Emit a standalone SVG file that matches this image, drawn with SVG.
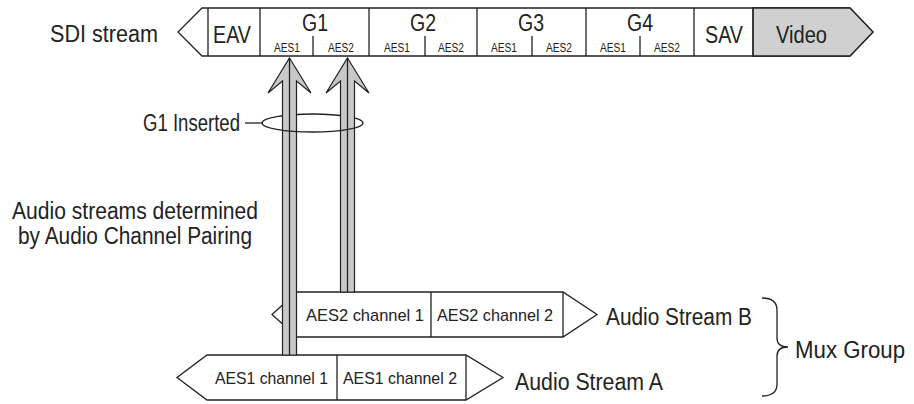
<svg xmlns="http://www.w3.org/2000/svg" width="914" height="404" viewBox="0 0 914 404">
<style>
text{font-family:"Liberation Sans",Arial,sans-serif;fill:#222}
.big{font-size:23px}
.sm{font-size:13.5px}
.ch{font-size:17px}
.ln{fill:none;stroke:#222;stroke-width:1.3}
.box{fill:#fff;stroke:#222;stroke-width:1.3}
.arr{fill:#c8c8c8;stroke:#222;stroke-width:1.2;stroke-linejoin:miter}
</style>
<rect width="914" height="404" fill="#fff"/>
<g id="labels">
<text class="big" x="50" y="42" textLength="108" lengthAdjust="spacingAndGlyphs">SDI stream</text>
<text class="big" x="143" y="131" textLength="97" lengthAdjust="spacingAndGlyphs">G1 Inserted</text>
<text class="big" x="12" y="219" textLength="246" lengthAdjust="spacingAndGlyphs">Audio streams determined</text>
<text class="big" x="18" y="244" textLength="234" lengthAdjust="spacingAndGlyphs">by Audio Channel Pairing</text>
</g>
<g id="sdi-stream">
<path class="box" d="M202,8 L850,8 L873,32 L850,56 L202,56 L178,32 Z"/>
<path d="M753,8 L850,8 L873,32 L850,56 L753,56 Z" fill="#d0d0d0" stroke="#222" stroke-width="1.3"/>
<path class="ln" d="M208,8V56M260,8V56M369,8V56M477,8V56M586,8V56M694,8V56M753,8V56M313,36V56M425,36V56M532,36V56M640,36V56"/>
<text class="big" x="213" y="43" textLength="38" lengthAdjust="spacingAndGlyphs">EAV</text>
<text class="big" x="302" y="31" textLength="26" lengthAdjust="spacingAndGlyphs">G1</text>
<text class="big" x="410" y="31" textLength="26" lengthAdjust="spacingAndGlyphs">G2</text>
<text class="big" x="518" y="31" textLength="26" lengthAdjust="spacingAndGlyphs">G3</text>
<text class="big" x="627" y="31" textLength="26" lengthAdjust="spacingAndGlyphs">G4</text>
<text class="big" x="705" y="43" textLength="38" lengthAdjust="spacingAndGlyphs">SAV</text>
<text class="big" x="776" y="43" textLength="51" lengthAdjust="spacingAndGlyphs">Video</text>
<text class="sm" x="274" y="52" textLength="26" lengthAdjust="spacingAndGlyphs">AES1</text>
<text class="sm" x="328" y="52" textLength="26" lengthAdjust="spacingAndGlyphs">AES2</text>
<text class="sm" x="384" y="52" textLength="26" lengthAdjust="spacingAndGlyphs">AES1</text>
<text class="sm" x="438" y="52" textLength="26" lengthAdjust="spacingAndGlyphs">AES2</text>
<text class="sm" x="491" y="52" textLength="26" lengthAdjust="spacingAndGlyphs">AES1</text>
<text class="sm" x="546" y="52" textLength="26" lengthAdjust="spacingAndGlyphs">AES2</text>
<text class="sm" x="600" y="52" textLength="26" lengthAdjust="spacingAndGlyphs">AES1</text>
<text class="sm" x="654" y="52" textLength="26" lengthAdjust="spacingAndGlyphs">AES2</text>
</g>
<g id="stream-b">
<path class="box" d="M297,292 L563,292 L597,314.5 L563,337 L297,337 L272,314.5 Z"/>
<path class="ln" d="M431,292V337M563,292V337"/>
<text class="ch" x="306" y="321" textLength="118" lengthAdjust="spacingAndGlyphs">AES2 channel 1</text>
<text class="ch" x="437" y="321" textLength="116" lengthAdjust="spacingAndGlyphs">AES2 channel 2</text>
<text class="big" x="606" y="325" textLength="146" lengthAdjust="spacingAndGlyphs">Audio Stream B</text>
</g>
<g id="stream-a">
<path class="box" d="M207,355 L466,355 L503,377.5 L466,400 L207,400 L177,377.5 Z"/>
<path class="ln" d="M337,355V400M466,355V400"/>
<text class="ch" x="215" y="384" textLength="113" lengthAdjust="spacingAndGlyphs">AES1 channel 1</text>
<text class="ch" x="343" y="384" textLength="114" lengthAdjust="spacingAndGlyphs">AES1 channel 2</text>
<text class="big" x="515" y="390" textLength="148" lengthAdjust="spacingAndGlyphs">Audio Stream A</text>
</g>
<g id="mux-group">
<path class="ln" d="M762,298 Q777,298 777,310 L777,338 Q777,347 788,347 Q777,347 777,356 L777,384 Q777,396 762,396"/>
<text class="big" x="795" y="358" textLength="110" lengthAdjust="spacingAndGlyphs">Mux Group</text>
</g>
<g id="connectors">
<path class="ln" d="M262,123 A50.5,9 0 0 1 363,123"/>
<path class="ln" d="M245,123H262"/>
<path class="arr" d="M289.5,58 L311,93 L296.5,81 L296.5,355 L282.5,355 L282.5,81 L268,93 Z"/>
<path class="ln" d="M289.5,58V355" stroke-width="1"/>
<path class="arr" d="M347.5,58 L369,93 L354.5,81 L354.5,292 L340.5,292 L340.5,81 L326,93 Z"/>
<path class="ln" d="M347.5,58V292" stroke-width="1"/>
<path class="ln" d="M262,123 A50.5,9 0 0 0 363,123"/>
</g>
</svg>
